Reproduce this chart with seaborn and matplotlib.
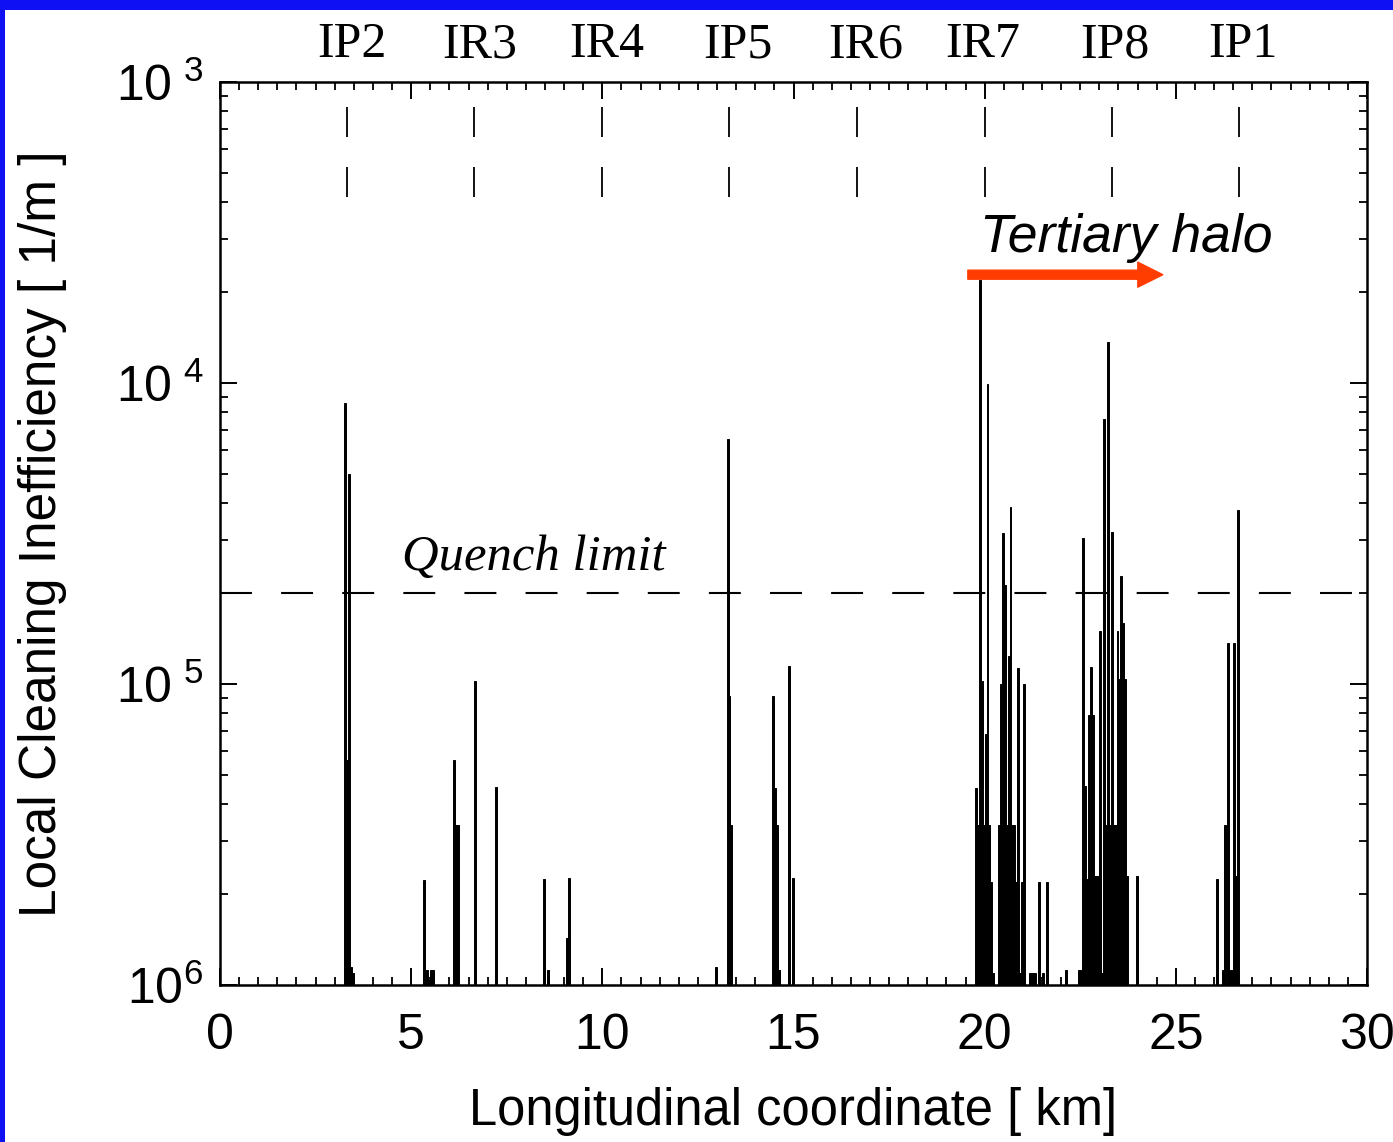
import numpy as np
import pandas as pd
import matplotlib
matplotlib.use("Agg")
import matplotlib.pyplot as plt
import seaborn as sns
from matplotlib import ticker
from matplotlib.patches import Rectangle, FancyArrowPatch
from matplotlib.transforms import blended_transform_factory

# ---------------- data ----------------
loss_km = [
    3.275, 3.325, 3.375, 3.425, 3.475,
    5.325, 5.425, 5.475, 5.525, 5.575,
    6.125, 6.175, 6.225, 6.675, 7.225, 8.475, 8.575, 9.075, 9.125,
    12.975, 13.275, 13.325, 13.375,
    14.475, 14.525, 14.575, 14.625, 14.875, 14.975,
    19.775, 19.825, 19.875, 19.925, 19.975, 20.025, 20.075, 20.125, 20.175, 20.225,
    20.375, 20.425, 20.475, 20.525, 20.575, 20.625, 20.675, 20.725, 20.775,
    20.825, 20.875, 20.925, 20.975, 21.025,
    21.175, 21.225, 21.275, 21.325, 21.425, 21.525, 21.625,
    22.125, 22.475, 22.525, 22.575, 22.625, 22.675, 22.725, 22.775, 22.825,
    22.875, 22.925, 22.975, 23.025, 23.075, 23.125, 23.175, 23.225, 23.275,
    23.325, 23.375, 23.425, 23.475, 23.525, 23.575, 23.625, 23.675, 23.725, 23.975,
    26.075, 26.225, 26.275, 26.375, 26.425, 26.475, 26.525, 26.575, 26.625,
]
loss_val = [
    8.6e-5, 5.6e-6, 5.0e-5, 1.15e-6, 1.1e-6,
    2.24e-6, 1.12e-6, 1.04e-6, 1.12e-6, 1.12e-6,
    5.6e-6, 3.4e-6, 3.4e-6, 1.02e-5, 4.55e-6, 2.25e-6, 1.12e-6, 1.43e-6, 2.27e-6,
    1.15e-6, 6.5e-5, 9.1e-6, 3.4e-6,
    9.1e-6, 4.5e-6, 3.4e-6, 1.12e-6, 1.15e-5, 2.27e-6,
    4.5e-6, 3.4e-6, 2.2e-4, 1.02e-5, 3.4e-6, 6.8e-6, 9.9e-5, 3.4e-6, 2.2e-6, 1.1e-6,
    3.4e-6, 1.0e-5, 3.18e-5, 2.14e-5, 3.4e-6, 1.24e-5, 3.87e-5, 3.4e-6, 3.4e-6,
    2.2e-6, 1.13e-5, 1.1e-6, 2.2e-6, 1.0e-5,
    1.1e-6, 1.1e-6, 1.1e-6, 1.1e-6, 2.2e-6, 1.1e-6, 2.2e-6,
    1.12e-6, 1.12e-6, 1.12e-6, 3.05e-5, 4.6e-6, 2.25e-6, 7.9e-6, 1.14e-5, 7.9e-6,
    2.3e-6, 2.3e-6, 2.3e-6, 1.5e-5, 1.1e-6, 7.6e-5, 3.4e-6, 1.37e-4, 3.4e-6,
    3.2e-5, 3.4e-6, 3.4e-6, 1.5e-5, 1.04e-5, 2.28e-5, 1.6e-5, 1.04e-5, 2.3e-6, 2.3e-6,
    2.25e-6, 1.12e-6, 3.4e-6, 1.37e-5, 1.12e-6, 1.12e-6, 1.37e-5, 2.3e-6, 3.79e-5,
]

ip_names = ["IP2", "IR3", "IR4", "IP5", "IR6", "IR7", "IP8", "IP1"]
ip_km = [3.32, 6.65, 9.99, 13.32, 16.66, 20.01, 23.33, 26.65]
ip_label_km = [3.45, 6.80, 10.12, 13.55, 16.90, 19.96, 23.41, 26.76]

quench_limit = 2e-5
x_ticks = [0, 5, 10, 15, 20, 25, 30]
x_tick_labels = ["0", "5", "10", "15", "20", "25", "30"]
y_ticks = [1e-6, 1e-5, 1e-4, 1e-3]
y_tick_labels = [r"$\mathregular{10^{6}}$", r"$\mathregular{10^{\ 5}}$",
                 r"$\mathregular{10^{\ 4}}$", r"$\mathregular{10^{\ 3}}$"]

# ---------------- style ----------------
sns.set_theme(style="ticks")
plt.rcParams["font.family"] = ["Liberation Sans", "DejaVu Sans"]
plt.rcParams["mathtext.fontset"] = "custom"
plt.rcParams["mathtext.rm"] = "Liberation Sans"
plt.rcParams["lines.scale_dashes"] = False

fig = plt.figure(figsize=(13.93, 11.42), dpi=100, facecolor="white")
ax = fig.add_axes([220 / 1393, 1 - 985 / 1142, (1367 - 220) / 1393, (985 - 82) / 1142])
ax.set_facecolor("white")

# blue slide border (top and left)
fig.patches.append(Rectangle((0, 1 - 10 / 1142), 1, 10 / 1142, transform=fig.transFigure,
                             facecolor="#1010F5", edgecolor="none", zorder=0))
fig.patches.append(Rectangle((0, 0), 5 / 1393, 1, transform=fig.transFigure,
                             facecolor="#1010F5", edgecolor="none", zorder=0))

df = pd.DataFrame({"s": loss_km, "w": loss_val})
sns.histplot(data=df, x="s", weights="w", binwidth=0.05, binrange=(0, 30),
             color="black", alpha=1, edgecolor="black", linewidth=0.7,
             element="bars", fill=True, ax=ax)

ax.set_yscale("log")
ax.set_xlim(0, 30)
ax.set_ylim(1e-6, 1e-3)

# quench limit
ax.plot([0, 30], [quench_limit, quench_limit], color="black", lw=1.5,
        linestyle=(0, (23, 21)), zorder=3)

# IP markers
ax.vlines(ip_km, 6.56e-4, 8.26e-4, color="black", lw=1.3)
ax.vlines(ip_km, 4.15e-4, 5.22e-4, color="black", lw=1.3)
trans = blended_transform_factory(ax.transData, ax.transAxes)
for name, xk in zip(ip_names, ip_label_km):
    ax.text(xk, 1.041, name, transform=trans, ha="center", va="center",
            fontsize=36, family="Liberation Serif", color="black")

ax.text(4.76, 2.39e-5, "Quench limit", fontsize=36.5, family="Liberation Serif",
        style="italic", ha="left", va="baseline", color="black")
ax.text(19.88, 2.72e-4, "Tertiary halo", fontsize=38.5, family="Liberation Sans",
        style="italic", ha="left", va="baseline", color="black")
arrow = FancyArrowPatch((19.56, 2.29e-4), (24.66, 2.29e-4),
                        arrowstyle="simple,head_length=18,head_width=18,tail_width=6.5",
                        mutation_scale=1, color="#FF3D00", shrinkA=0, shrinkB=0, zorder=5)
ax.add_patch(arrow)

# axes / ticks
ax.set_xticks(x_ticks)
ax.set_xticklabels(x_tick_labels)
ax.xaxis.set_minor_locator(ticker.MultipleLocator(0.5))
ax.set_yticks(y_ticks)
ax.set_yticklabels(y_tick_labels)
ax.yaxis.set_minor_formatter(ticker.NullFormatter())
ax.tick_params(axis="both", which="major", direction="in", length=12, width=1.4,
               top=True, right=True, labelsize=36, color="black", labelcolor="black")
ax.tick_params(axis="both", which="minor", direction="in", length=6, width=1.3,
               top=True, right=True, color="black")
ax.tick_params(axis="x", which="major", pad=20)
ax.tick_params(axis="y", which="major", pad=12)
for sp in ax.spines.values():
    sp.set_linewidth(1.8)
    sp.set_color("black")

ax.set_xlabel("Longitudinal coordinate [ km]", fontsize=36.5, color="black", labelpad=20)
ax.set_ylabel("Local Cleaning Inefficiency [ 1/m ]", fontsize=37, color="black")
ax.yaxis.set_label_coords(-0.133, 0.5)

fig.savefig("out.png", dpi=100, facecolor="white")
